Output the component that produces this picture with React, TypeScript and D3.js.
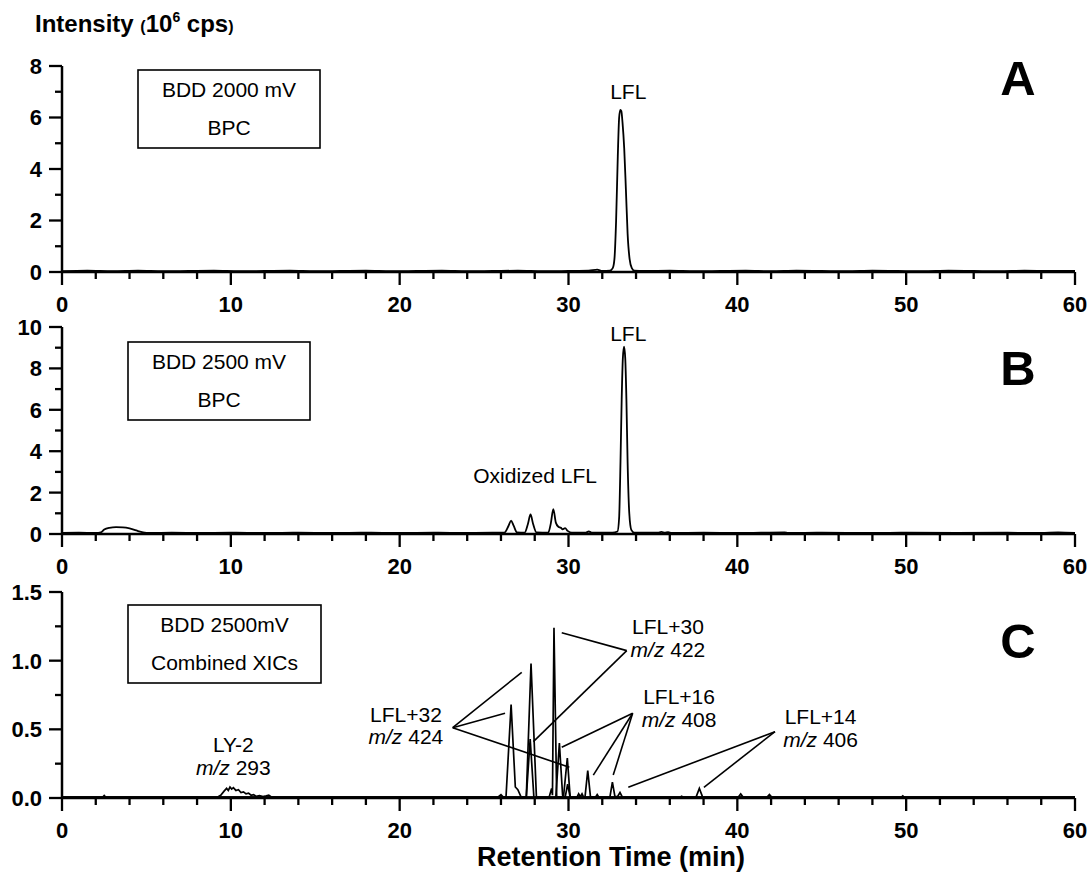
import React from "react";
import * as d3 from "d3";

// ---------- DATA ----------
const xMajorTicks = [0, 10, 20, 30, 40, 50, 60];
const xMinorTicks = [2, 4, 6, 8, 12, 14, 16, 18, 22, 24, 26, 28, 32, 34, 36, 38, 42, 44, 46, 48, 52, 54, 56, 58];

const yTicksA = [0, 2, 4, 6, 8];
const yMinorA = [1, 3, 5, 7];
const yTicksB = [0, 2, 4, 6, 8, 10];
const yMinorB = [1, 3, 5, 7, 9];
const yTicksC = [0, 0.5, 1.0, 1.5];
const yMinorC = [0.25, 0.75, 1.25];

// Panel A: BDD 2000 mV, BPC (time min, intensity 1e6 cps)
const bpc2000: [number, number][] = [
  [0, 0.03], [1.5, 0.05], [3, 0.03], [4.5, 0.05], [6, 0.03], [7.5, 0.04], [9, 0.05], [10.5, 0.03],
  [12, 0.04], [13.5, 0.05], [15, 0.03], [16.5, 0.04], [18, 0.05], [19.5, 0.03], [21, 0.04], [22.5, 0.05],
  [24, 0.03], [25.5, 0.04], [27, 0.05], [28.5, 0.03], [30, 0.04], [31.2, 0.05], [31.7, 0.09], [32.0, 0.04],
  [32.45, 0.05], [32.62, 0.15], [32.72, 0.5], [32.82, 2.0], [32.92, 4.5], [33.0, 6.0], [33.07, 6.3],
  [33.13, 6.25], [33.2, 5.8], [33.3, 4.8], [33.4, 3.2], [33.5, 1.5], [33.62, 0.5], [33.75, 0.15], [33.9, 0.05],
  [34.5, 0.04], [36, 0.05], [37.5, 0.03], [39, 0.04], [40.5, 0.05], [42, 0.03], [43.5, 0.05], [45, 0.04],
  [46.5, 0.03], [48, 0.05], [49.5, 0.04], [51, 0.03], [52.5, 0.05], [54, 0.04], [55.5, 0.03], [57, 0.05],
  [58.5, 0.04], [60, 0.04],
];

// Panel B: BDD 2500 mV, BPC
const bpc2500: [number, number][] = [
  [0, 0.05], [1, 0.06], [2, 0.05], [2.3, 0.08], [2.5, 0.22], [2.8, 0.3], [3.2, 0.33], [3.6, 0.32],
  [4.0, 0.27], [4.4, 0.17], [4.8, 0.08], [5.2, 0.05], [6.5, 0.06], [8, 0.05], [10, 0.06], [12, 0.05],
  [14, 0.06], [16, 0.05], [18, 0.06], [20, 0.05], [22, 0.06], [24, 0.05], [25.5, 0.06], [26.2, 0.07],
  [26.45, 0.4], [26.6, 0.65], [26.75, 0.4], [26.95, 0.08], [27.4, 0.07], [27.6, 0.5], [27.75, 0.95],
  [27.9, 0.5], [28.1, 0.08], [28.8, 0.07], [28.95, 0.5], [29.1, 1.2], [29.25, 0.55], [29.4, 0.35],
  [29.55, 0.3], [29.65, 0.22], [29.8, 0.28], [29.95, 0.15], [30.2, 0.06], [31.0, 0.06], [31.2, 0.12],
  [31.4, 0.06], [32.6, 0.06], [32.9, 0.12], [33.0, 0.8], [33.08, 3.5], [33.15, 6.5], [33.22, 8.5],
  [33.29, 9.05], [33.36, 8.5], [33.43, 6.5], [33.5, 3.5], [33.6, 1.0], [33.72, 0.2], [33.9, 0.06],
  [35.3, 0.06], [35.5, 0.1], [35.7, 0.06], [35.9, 0.09], [36.1, 0.05], [38, 0.06], [40, 0.05],
  [42.8, 0.08], [43, 0.05], [45, 0.06], [48, 0.05], [50, 0.06], [53, 0.05], [56, 0.06], [58, 0.05],
  [59, 0.08], [60, 0.05],
];

// Panel C: combined XICs
const xic293: [number, number][] = [
  [0, 0.005], [2.4, 0.005], [2.5, 0.018], [2.6, 0.005], [9.2, 0.005], [9.4, 0.02], [9.6, 0.05],
  [9.75, 0.07], [9.85, 0.055], [9.95, 0.08], [10.05, 0.065], [10.15, 0.075], [10.3, 0.055], [10.45, 0.06],
  [10.6, 0.04], [10.75, 0.045], [10.9, 0.03], [11.05, 0.035], [11.2, 0.02], [11.35, 0.025], [11.5, 0.012],
  [11.7, 0.018], [11.9, 0.01], [12.1, 0.015], [12.25, 0.02], [12.4, 0.008], [12.7, 0.005], [60, 0.005],
];
const xic424: [number, number][] = [
  [0, 0.005], [25.8, 0.005], [26.0, 0.025], [26.15, 0.005], [26.3, 0.01], [26.6, 0.68], [26.85, 0.08],
  [27.0, 0.06], [27.2, 0.005], [27.5, 0.008], [27.78, 0.98], [28.1, 0.005], [29.7, 0.005], [29.93, 0.29],
  [30.1, 0.005], [60, 0.005],
];
const xic422: [number, number][] = [
  [0, 0.005], [27.5, 0.005], [27.73, 0.43], [27.95, 0.005], [28.85, 0.005], [29.0, 0.07], [29.05, 0.02],
  [29.14, 1.24], [29.3, 0.01], [29.8, 0.005], [29.95, 0.1], [30.1, 0.005], [60, 0.005],
];
const xic408: [number, number][] = [
  [0, 0.005], [29.25, 0.005], [29.46, 0.4], [29.65, 0.02], [29.75, 0.005], [30.5, 0.005], [30.6, 0.03],
  [30.7, 0.01], [30.8, 0.03], [30.9, 0.005], [30.98, 0.01], [31.14, 0.2], [31.3, 0.01], [31.6, 0.005],
  [31.7, 0.025], [31.8, 0.005], [32.45, 0.005], [32.6, 0.115], [32.75, 0.01], [32.9, 0.01], [33.05, 0.04],
  [33.2, 0.005], [60, 0.005],
];
const xic406: [number, number][] = [
  [0, 0.005], [36.6, 0.005], [36.7, 0.012], [36.8, 0.005], [37.55, 0.005], [37.75, 0.07], [37.95, 0.005],
  [40.05, 0.005], [40.2, 0.03], [40.35, 0.005], [41.75, 0.005], [41.9, 0.025], [42.05, 0.005],
  [49.7, 0.005], [49.8, 0.015], [49.9, 0.005], [60, 0.005],
];

// Annotation labels in panel C (time, intensity of first-line baseline, second-line baseline)
const labelsC = [
  { name: "LY-2", mz: "293", t: 10.15, v1: 0.337, v2: 0.167 },
  { name: "LFL+32", mz: "424", t: 20.37, v1: 0.556, v2: 0.393 },
  { name: "LFL+30", mz: "422", t: 35.89, v1: 1.194, v2: 1.027 },
  { name: "LFL+16", mz: "408", t: 36.55, v1: 0.684, v2: 0.517 },
  { name: "LFL+14", mz: "406", t: 44.93, v1: 0.539, v2: 0.371 },
];
// Leader lines: hub point then target points (time, intensity)
const leaders32: [number, number][][] = [[[23.14, 0.512], [27.23, 0.915]], [[23.14, 0.512], [26.24, 0.617]], [[23.14, 0.512], [30.05, 0.224]]];
const leaders30: [number, number][][] = [[[33.45, 1.073], [29.6, 1.204]], [[33.45, 1.073], [27.92, 0.41]]];
const leaders16: [number, number][][] = [[[33.8, 0.617], [29.6, 0.369]], [[33.8, 0.617], [31.47, 0.167]], [[33.8, 0.617], [32.65, 0.167]]];
const leaders14: [number, number][][] = [[[42.23, 0.483], [33.54, 0.078]], [[42.23, 0.483], [38.02, 0.078]]];

const FONT = "'Liberation Sans', Arial, Helvetica, sans-serif";

type Scale = d3.ScaleLinear<number, number>;

function Axes({ x, y, major, minor, fmt }: { x: Scale; y: Scale; major: number[]; minor: number[]; fmt: (v: number) => string }) {
  const y0 = y.range()[0];
  const yTop = y.range()[1];
  const x0 = x.range()[0];
  const x1 = x.range()[1];
  return (
    <g fontFamily={FONT} fontWeight="bold" fontSize={22} fill="#000">
      <line x1={x0} x2={x1} y1={y0} y2={y0} stroke="#000" strokeWidth={2.5} />
      <line x1={x0} x2={x0} y1={y0} y2={yTop} stroke="#000" strokeWidth={2.5} />
      {xMajorTicks.map((t) => (
        <g key={"xM" + t}>
          <line x1={x(t)} x2={x(t)} y1={y0} y2={y0 + 13} stroke="#000" strokeWidth={2.3} />
          <text x={x(t)} y={y0 + 40} textAnchor="middle">{t}</text>
        </g>
      ))}
      {xMinorTicks.map((t) => (
        <line key={"xm" + t} x1={x(t)} x2={x(t)} y1={y0} y2={y0 + 7} stroke="#000" strokeWidth={2.3} />
      ))}
      {major.map((v) => (
        <g key={"yM" + v}>
          <line x1={x0 - 13} x2={x0} y1={y(v)} y2={y(v)} stroke="#000" strokeWidth={2.3} />
          <text x={42} y={y(v)} dy="0.36em" textAnchor="end">{fmt(v)}</text>
        </g>
      ))}
      {minor.map((v) => (
        <line key={"ym" + v} x1={x0 - 7} x2={x0} y1={y(v)} y2={y(v)} stroke="#000" strokeWidth={2.3} />
      ))}
    </g>
  );
}

function Box({ x0, y0, w, h, l1, l2 }: { x0: number; y0: number; w: number; h: number; l1: string; l2: string }) {
  return (
    <g fontFamily={FONT} fontSize={21}>
      <rect x={x0} y={y0} width={w} height={h} fill="#fff" stroke="#000" strokeWidth={1.6} />
      <text x={x0 + w / 2} y={y0 + 27} textAnchor="middle">{l1}</text>
      <text x={x0 + w / 2} y={y0 + 65} textAnchor="middle">{l2}</text>
    </g>
  );
}

export default function App() {
  const x = d3.scaleLinear().domain([0, 60]).range([62, 1075]);
  const yA = d3.scaleLinear().domain([0, 8]).range([272, 66]);
  const yB = d3.scaleLinear().domain([0, 10]).range([534, 327]);
  const yC = d3.scaleLinear().domain([0, 1.5]).range([798, 592]);

  const lineA = d3.line<[number, number]>().x((d) => x(d[0])).y((d) => yA(d[1])).curve(d3.curveMonotoneX);
  const lineB = d3.line<[number, number]>().x((d) => x(d[0])).y((d) => yB(d[1])).curve(d3.curveMonotoneX);
  const lineC = d3.line<[number, number]>().x((d) => x(d[0])).y((d) => yC(d[1]));

  const allLeaders = [...leaders32, ...leaders30, ...leaders16, ...leaders14];

  return (
    <svg width={1089} height={873} style={{ position: "absolute", left: 0, top: 0, background: "#fff" }}>
      <rect width={1089} height={873} fill="#fff" />
      {/* y title */}
      <text x={35} y={32} fontFamily={FONT} fontWeight="bold" fontSize={24}>
        Intensity <tspan fontSize={16}>(</tspan>10<tspan fontSize={14} dy={-10}>6</tspan>
        <tspan dy={10}> cps</tspan><tspan fontSize={16}>)</tspan>
      </text>

      {/* Panel A */}
      <Axes x={x} y={yA} major={yTicksA} minor={yMinorA} fmt={(v) => String(v)} />
      <path d={lineA(bpc2000) || ""} fill="none" stroke="#000" strokeWidth={1.8} />
      <Box x0={138} y0={70} w={182} h={78} l1="BDD 2000 mV" l2="BPC" />
      <text x={x(33.54)} y={yA(6.71)} textAnchor="middle" fontFamily={FONT} fontSize={21}>LFL</text>
      <text x={1018} y={95} textAnchor="middle" fontFamily={FONT} fontWeight="bold" fontSize={49}>A</text>

      {/* Panel B */}
      <Axes x={x} y={yB} major={yTicksB} minor={yMinorB} fmt={(v) => String(v)} />
      <path d={lineB(bpc2500) || ""} fill="none" stroke="#000" strokeWidth={1.8} />
      <Box x0={128} y0={342} w={182} h={78} l1="BDD 2500 mV" l2="BPC" />
      <text x={x(33.54)} y={yB(9.34)} textAnchor="middle" fontFamily={FONT} fontSize={21}>LFL</text>
      <text x={x(28.02)} y={yB(2.45)} textAnchor="middle" fontFamily={FONT} fontSize={21}>Oxidized LFL</text>
      <text x={1018} y={385} textAnchor="middle" fontFamily={FONT} fontWeight="bold" fontSize={49}>B</text>

      {/* Panel C */}
      <Axes x={x} y={yC} major={yTicksC} minor={yMinorC} fmt={(v) => v.toFixed(1)} />
      {[xic293, xic424, xic422, xic408, xic406].map((s, i) => (
        <path key={i} d={lineC(s) || ""} fill="none" stroke="#000" strokeWidth={1.7} />
      ))}
      {allLeaders.map((seg, i) => (
        <line key={"ld" + i} x1={x(seg[0][0])} y1={yC(seg[0][1])} x2={x(seg[1][0])} y2={yC(seg[1][1])} stroke="#000" strokeWidth={1.6} />
      ))}
      {labelsC.map((l) => (
        <g key={l.name} fontFamily={FONT} fontSize={21} textAnchor="middle">
          <text x={x(l.t)} y={yC(l.v1)}>{l.name}</text>
          <text x={x(l.t)} y={yC(l.v2)}>
            <tspan fontStyle="italic">m/z</tspan> {l.mz}
          </text>
        </g>
      ))}
      <Box x0={128} y0={605} w={193} h={78} l1="BDD 2500mV" l2="Combined XICs" />
      <text x={1018} y={658} textAnchor="middle" fontFamily={FONT} fontWeight="bold" fontSize={49}>C</text>

      <text x={611} y={866} textAnchor="middle" fontFamily={FONT} fontWeight="bold" fontSize={27}>Retention Time (min)</text>
    </svg>
  );
}
